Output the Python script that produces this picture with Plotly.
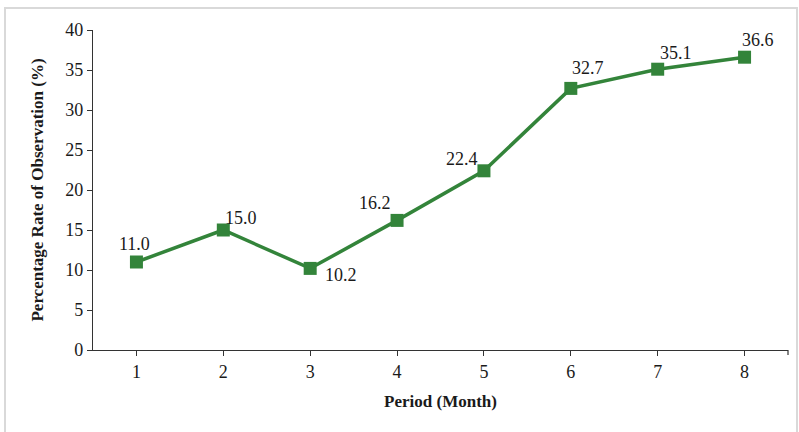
import plotly.graph_objects as go

periods = ["1", "2", "3", "4", "5", "6", "7", "8"]
rates = [11.0, 15.0, 10.2, 16.2, 22.4, 32.7, 35.1, 36.6]
# label offsets in pixels (right, up) relative to each point
label_dx = [-2, 18, 31, -22, -22, 17, 18, 13]
label_dy = [18, 12, -7, 17, 12, 20, 16, 17]

W, H = 799, 432
ml, mr, mt, mb = 93, 11, 30, 82
pw, ph = W - ml - mr, H - mt - mb

fam = "Liberation Serif, Times New Roman, serif"
font = dict(family=fam, size=18, color="#1a1a1a")
tfont = dict(family=fam, size=17, color="#1a1a1a")
green = "#33843A"

fig = go.Figure(go.Scatter(
    x=periods, y=rates, mode="lines+markers",
    line=dict(color=green, width=3.5),
    marker=dict(symbol="square", size=13, color=green),
    cliponaxis=False, showlegend=False, hoverinfo="skip",
))

for i, (v, dx, dy) in enumerate(zip(rates, label_dx, label_dy)):
    fig.add_annotation(x=i, y=v, text=f"{v:.1f}", showarrow=False,
                       xshift=dx, yshift=dy, font=font)

fig.update_layout(
    width=W, height=H, margin=dict(l=ml, r=mr, t=mt, b=mb),
    paper_bgcolor="white", plot_bgcolor="white", font=font,
    xaxis=dict(type="category", range=[-0.5, 7.5], showline=True, linecolor="#333", linewidth=1.2,
               ticks="outside", ticklen=5, tickcolor="#333", showgrid=False,
               tickfont=font,
               title=dict(text="<b>Period (Month)</b>", font=tfont, standoff=14)),
    yaxis=dict(range=[0, 40], dtick=5, showline=True, linecolor="#333", linewidth=1.2,
               ticks="outside", ticklen=5, tickcolor="#333", showgrid=False, zeroline=False,
               tickfont=font,
               title=dict(text="<b>Percentage Rate of Observation (%)</b>", font=tfont, standoff=17)),
    shapes=[
        dict(type="rect", xref="paper", yref="paper",
             x0=(5 - ml) / pw, x1=(797 - ml) / pw,
             y0=(H - mb - 440) / ph, y1=(H - mb - 8) / ph,
             line=dict(color="#d9d9d9", width=2), layer="below"),
        dict(type="line", xref="paper", yref="paper", x0=1, x1=1, y0=0, y1=-5 / ph,
             line=dict(color="#333", width=1.2)),
    ],
)

fig.write_html("out.html", config={"displayModeBar": False},
               post_script="document.body.style.margin='0px';")
